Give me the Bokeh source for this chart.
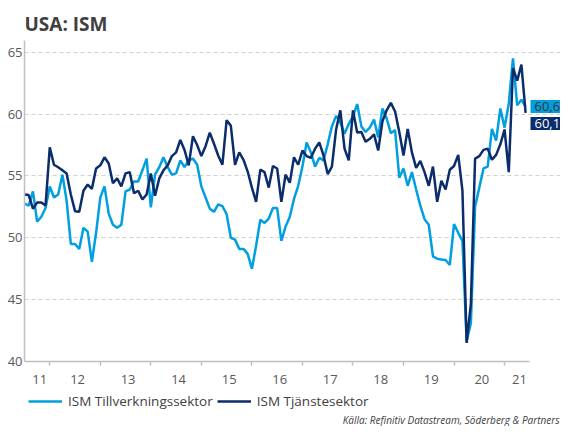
import pandas as pd
from bokeh.plotting import figure
from bokeh.layouts import column
from bokeh.models import (Range1d, FixedTicker, Label, Legend, LegendItem,
                          ColumnDataSource)
from bokeh.embed import file_html
from bokeh.resources import INLINE

# ---------------- data (monthly, Jul 2011 - Jun 2021) ----------------
start_month = "2011-07"
series_names = ["ISM Tillverkningssektor", "ISM Tjänstesektor"]
year_labels = ["11", "12", "13", "14", "15", "16", "17", "18", "19", "20", "21"]
y_ticks = [40, 45, 50, 55, 60, 65]
title_text = "USA: ISM"
source_text = "Källa: Refinitiv Datastream, Söderberg & Partners"

mfg = [52.75, 52.6, 53.75, 51.3, 51.7, 52.4, 54.15, 53.25, 53.5, 55.1,
       53.0, 49.5, 49.5, 49.1, 50.8, 50.5, 48.05, 50.4, 53.25, 54.15,
       51.95, 51.05, 50.8, 51.05, 53.75, 53.9, 54.55, 54.55, 55.45, 56.4,
       52.45, 55.1, 55.7, 56.5, 55.7, 55.1, 55.2, 56.25, 55.7, 56.25,
       56.4, 55.9, 54.15, 53.25, 52.35, 52.1, 52.7, 52.55, 51.9, 50.0,
       49.85, 49.1, 49.1, 48.7, 47.5, 49.35, 51.45, 51.2, 51.55, 52.4,
       52.4, 49.75, 50.9, 51.7, 53.15, 54.2, 55.75, 57.7, 56.9, 55.75,
       56.45, 56.25, 57.55, 59.0, 59.85, 59.3, 58.4, 59.2, 59.8, 60.8,
       59.0, 58.55, 58.9, 59.55, 58.1, 60.45, 59.65, 58.45, 58.7, 54.85,
       55.6, 54.2, 55.3, 53.9, 52.6, 51.5, 51.05, 48.5, 48.3, 48.25,
       48.2, 47.8, 51.1, 50.4, 49.75, 41.65, 43.1, 52.5, 54.05, 55.6,
       55.75, 58.8, 57.85, 60.45, 58.9, 60.85, 64.5, 60.7, 61.15, 60.6]

svc = [53.5, 53.45, 52.35, 52.85, 52.85, 52.6, 57.3, 55.9, 55.7, 55.45,
       55.2, 53.5, 52.15, 52.1, 53.8, 54.3, 53.95, 55.6, 55.85, 56.5,
       56.0, 54.4, 54.8, 54.15, 55.2, 55.3, 53.6, 53.8, 53.1, 53.5,
       55.2, 53.4, 54.8, 55.45, 55.85, 56.6, 56.9, 57.9, 57.1, 55.85,
       58.2, 57.5, 56.6, 57.4, 58.5, 57.6, 56.65, 55.9, 59.5, 59.05,
       55.9, 56.9, 56.3, 55.35, 54.05, 52.9, 55.5, 55.3, 54.05, 55.8,
       55.6, 52.9, 55.1, 54.45, 56.5, 55.9, 57.05, 56.6, 56.45, 57.2,
       57.7, 56.65, 55.15, 55.75, 58.75, 60.3, 57.2, 56.25, 60.3, 58.5,
       58.55, 57.75, 58.0, 58.35, 57.05, 59.4, 60.3, 60.9, 60.2, 58.55,
       56.65, 58.8, 56.9, 55.65, 56.2, 55.3, 54.2, 55.75, 52.9, 54.6,
       53.9, 55.5, 55.8, 56.7, 53.8, 41.5, 44.65, 56.4, 56.6, 57.1,
       57.2, 56.3, 56.7, 57.55, 58.75, 55.3, 63.7, 62.7, 64.0, 60.1]

# ---------------- styling / layout ----------------
MFG_COLOR = "#009FDF"
SVC_COLOR = "#0B2D6C"
TEXT_COLOR = "#404040"
TICK_COLOR = "#595959"
AXIS_COLOR = "#BFBFBF"
FONT = "Open Sans"

W = 560
H_MAIN, H_FOOT = 392, 34
LEFT, TOP, BOTTOM = 24, 40, 31
FRAME_W = W - LEFT          # frame reaches the right edge (room for value boxes)
AXIS_PX = 505               # length of the x axis line inside the frame
BOX_H_PX = 17

dates = pd.date_range(start_month, periods=len(mfg), freq="MS")
xs = list(dates.year + (dates.month - 1) / 12.0)
src = ColumnDataSource(dict(x=xs, mfg=mfg, svc=svc))

x0 = xs[0]
x_axis_end = xs[-1] + 0.077
x_end = x0 + (x_axis_end - x0) * FRAME_W / AXIS_PX
y0, y1 = 40, 65.94

p = figure(width=W, height=H_MAIN, output_backend="svg", toolbar_location=None,
           x_range=Range1d(x0, x_end), y_range=Range1d(y0, y1),
           min_border_left=LEFT, min_border_right=0, min_border_bottom=BOTTOM,
           min_border_top=TOP)
p.outline_line_color = None
p.background_fill_color = "white"
p.border_fill_color = "white"

p.title.text = title_text
p.title.text_font = FONT
p.title.text_font_size = "19px"
p.title.text_font_style = "bold"
p.title.text_color = TEXT_COLOR
p.title.standoff = 8

# lines
r_mfg = p.line("x", "mfg", source=src, color=MFG_COLOR, line_width=2.5)
r_svc = p.line("x", "svc", source=src, color=SVC_COLOR, line_width=2.5)

# y axis
yax = p.yaxis[0]
yax.ticker = FixedTicker(ticks=y_ticks)
yax.major_tick_line_color = None
yax.minor_tick_line_color = None
yax.major_tick_out = 0
yax.axis_line_color = AXIS_COLOR
yax.axis_line_width = 1.5
yax.major_label_standoff = 2
yax.major_label_text_font = FONT
yax.major_label_text_font_size = "13px"
yax.major_label_text_color = TICK_COLOR

# x axis: tick marks at year boundaries, labels centred on each year
first_year = int(dates.year[0])
boundaries = [float(first_year + i) for i in range(1, len(year_labels))]
centers = []
for i in range(len(year_labels)):
    lo = max(first_year + i, x0)
    hi = min(first_year + i + 1, x_axis_end)
    centers.append(round((lo + hi) / 2 + 0.05, 4))
xax = p.xaxis[0]
xax.bounds = (x0, x_axis_end)
xax.ticker = FixedTicker(ticks=centers, minor_ticks=boundaries)
xax.major_label_overrides = {c: lab for c, lab in zip(centers, year_labels)}
xax.major_tick_line_color = None
xax.major_tick_out = 0
xax.major_tick_in = 0
xax.minor_tick_line_color = AXIS_COLOR
xax.minor_tick_line_width = 1.5
xax.minor_tick_out = 4
xax.minor_tick_in = 0
xax.axis_line_color = AXIS_COLOR
xax.axis_line_width = 1.5
xax.major_label_standoff = 9
xax.major_label_text_font = FONT
xax.major_label_text_font_size = "13px"
xax.major_label_text_color = TICK_COLOR

p.xgrid.grid_line_color = None
p.ygrid.ticker = FixedTicker(ticks=y_ticks[1:])
p.ygrid.grid_line_color = "#D0D0D0"
p.ygrid.grid_line_dash = "4 3"
p.ygrid.grid_line_width = 1

# end value boxes
def fmt(v):
    return f"{v:.1f}".replace(".", ",")

frame_h = H_MAIN - TOP - BOTTOM
px_per_unit = frame_h / (y1 - y0)
y_mfg_lab = mfg[-1]
y_svc_lab = min(svc[-1], mfg[-1] - BOX_H_PX / px_per_unit)
for yv, val, bg, fg in [(y_mfg_lab, mfg[-1], MFG_COLOR, "#333333"),
                        (y_svc_lab, svc[-1], SVC_COLOR, "white")]:
    p.add_layout(Label(x=x_axis_end, y=yv, text=fmt(val), x_offset=1,
                       text_baseline="middle", text_align="left",
                       text_font=FONT, text_font_size="13px", text_color=fg,
                       background_fill_color=bg,
                       padding=dict(left=4, right=30, top=2, bottom=2)))

# ---------------- footer: legend + source ----------------
f = figure(width=W, height=H_FOOT, output_backend="svg", toolbar_location=None,
           x_range=Range1d(LEFT, W), y_range=Range1d(0, H_FOOT),
           x_axis_type=None, y_axis_type=None,
           min_border_left=LEFT, min_border_right=0, min_border_top=0,
           min_border_bottom=0)
f.outline_line_color = None
f.xgrid.visible = False
f.ygrid.visible = False
f.background_fill_color = "white"
f.border_fill_color = "white"
# legend keys reuse the chart's data (falls outside this strip's ranges)
k_mfg = f.line("x", "mfg", source=src, color=MFG_COLOR, line_width=2.5)
k_svc = f.line("x", "svc", source=src, color=SVC_COLOR, line_width=2.5)
legend = Legend(items=[LegendItem(label=series_names[0], renderers=[k_mfg]),
                       LegendItem(label=series_names[1], renderers=[k_svc])],
                orientation="horizontal", location=(4, 16),
                glyph_width=34, glyph_height=14, label_height=14,
                label_standoff=6, spacing=4,
                padding=0, margin=0, border_line_color=None,
                background_fill_alpha=0, label_text_font=FONT,
                label_text_font_size="13.5px", label_text_color=TEXT_COLOR)
f.add_layout(legend)
f.add_layout(Label(x=W, y=7, text=source_text, x_offset=-1,
                   text_align="right", text_baseline="middle",
                   text_font=FONT, text_font_style="italic",
                   text_font_size="10px", text_color=TEXT_COLOR))

layout = column(p, f, spacing=0)
open("out.html", "w").write(file_html(layout, INLINE))
